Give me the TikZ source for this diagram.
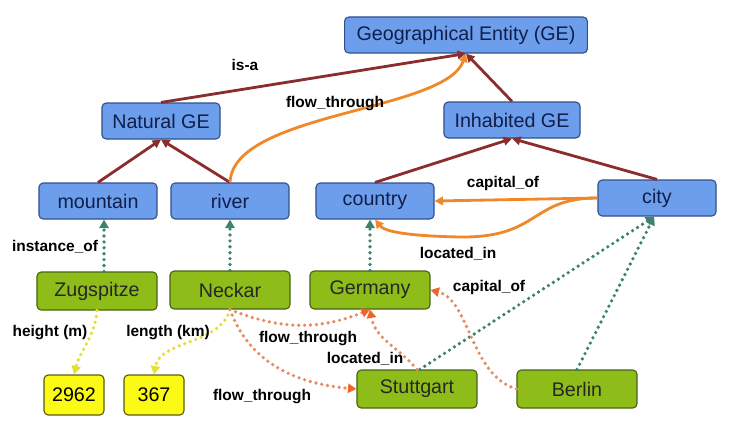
\documentclass[tikz,border=0pt]{standalone}
\usepackage{fontspec}
\setmainfont{Liberation Sans}
\usetikzlibrary{arrows.meta, positioning}

\definecolor{classfill}{RGB}{109,158,235}
\definecolor{classborder}{RGB}{50,80,140}
\definecolor{classtext}{RGB}{15,30,75}
\definecolor{instfill}{RGB}{142,189,26}
\definecolor{instborder}{RGB}{70,100,20}
\definecolor{valfill}{RGB}{250,250,20}
\definecolor{valborder}{RGB}{90,90,20}
\definecolor{isared}{RGB}{140,45,45}
\definecolor{relorange}{RGB}{240,135,40}
\definecolor{ofteal}{RGB}{60,130,110}
\definecolor{dotorange}{RGB}{230,140,100}
\definecolor{tiporange}{RGB}{240,100,40}
\definecolor{attryellow}{RGB}{230,222,50}

\begin{document}
\begin{tikzpicture}[x=0.025cm, y=-0.025cm,
    class/.style={draw=classborder, fill=classfill, text=classtext, rounded corners=3pt,
        line width=0.8pt, minimum width=2.95cm, minimum height=0.9cm, font=\fontsize{14}{16}\selectfont},
    inst/.style={draw=instborder, fill=instfill, text=black!85, rounded corners=3pt,
        line width=0.8pt, minimum width=3cm, minimum height=0.95cm, font=\fontsize{14}{16}\selectfont},
    val/.style={draw=valborder, fill=valfill, rounded corners=3pt, line width=0.8pt,
        minimum width=1.5cm, minimum height=1cm, font=\fontsize{14}{16}\selectfont},
    lbl/.style={font=\fontsize{11}{13}\selectfont\bfseries},
    isa/.style={isared, line width=2pt, -{Triangle[length=6pt, width=6pt]}},
    rel/.style={relorange, line width=2pt, -{Triangle[length=6pt, width=6pt]}},
    ofedge/.style={ofteal, line width=2.6pt, line cap=round, dash pattern=on 0pt off 4.2pt,
        -{Triangle[length=6pt, width=6.5pt]}},
    dotrel/.style={dotorange, line width=2.6pt, line cap=round, dash pattern=on 0pt off 4.2pt,
        -{Triangle[length=6pt, width=6.5pt, color=tiporange]}},
    attr/.style={attryellow, line width=2.6pt, line cap=round, dash pattern=on 0pt off 4.2pt,
        -{Triangle[length=6pt, width=6.5pt]}}
]
    \useasboundingbox (0,0) rectangle (738,436);

    % Classes
    \node[class, minimum width=6.07cm] (ge) at (466, 35) {Geographical Entity (GE)};
    \node[class] (natge) at (161, 121) {Natural GE};
    \node[class, minimum width=3.4cm] (inhge) at (512, 120) {Inhabited GE};
    \node[class] (mountain) at (98, 201) {mountain};
    \node[class] (river) at (230, 201) {river};
    \node[class] (country) at (375, 201) {country};
    \node[class] (city) at (657, 198) {city};

    % Instances
    \node[inst] (zugspitze) at (97, 291) {Zugspitze};
    \node[inst] (neckar) at (230, 290) {Neckar};
    \node[inst] (germany) at (370, 290) {Germany};
    \node[inst] (stuttgart) at (417, 389) {Stuttgart};
    \node[inst] (berlin) at (577, 389) {Berlin};

    % Values
    \node[val] (v2962) at (74, 395) {2962};
    \node[val] (v367) at (154, 395) {367};

    % is-a
    \draw[isa] (natge.north) -- (ge.south);
    \draw[isa] (inhge.north) -- (ge.south);
    \draw[isa] (mountain.north) -- (natge.south);
    \draw[isa] (river.north) -- (natge.south);
    \draw[isa] (country.north) -- (inhge.south);
    \draw[isa] (city.north) -- (inhge.south);
    \node[lbl] at (245, 65) {is-a};

    % Relations between classes
    \draw[rel] (river.north) .. controls (233, 112) and (445, 112) .. (ge.south);
    \node[lbl] at (335, 104) {flow\_through};
    \draw[rel] (city.west) -- (country.east);
    \node[lbl] at (503, 183) {capital\_of};
    \draw[rel] (city.west) .. controls (530, 198) and (540, 238) .. (460, 237)
        .. controls (410, 236) and (385, 232) .. (country.south);
    \node[lbl] at (458, 254) {located\_in};

    % instance_of
    \draw[ofedge] ([xshift=5pt]zugspitze.north) -- ([xshift=5pt]zugspitze.north |- mountain.south);
    \node[lbl] at (55, 247) {instance\_of};
    \draw[ofedge] (neckar.north) -- (river.south);
    \draw[ofedge] (germany.north) -- (germany.north |- country.south);
    \draw[ofedge] ([xshift=2pt]stuttgart.north) -- ([xshift=-2pt]city.south);
    \draw[ofedge] (berlin.north) -- ([xshift=-2pt]city.south);

    % Attributes
    \draw[attr] (zugspitze.south) to[out=-95, in=75] (v2962.north);
    \node[lbl] at (50, 333) {height (m)};
    \draw[attr] (neckar.south) .. controls (220, 345) and (160, 340) .. (v367.north);
    \node[lbl] at (168, 333) {length (km)};

    % Relations between instances
    \draw[dotrel] (neckar.south) to[bend right=22] (germany.south);
    \node[lbl] at (308, 339) {flow\_through};
    \draw[dotrel] (neckar.south) to[out=-70, in=175] (stuttgart.west);
    \node[lbl] at (262, 397) {flow\_through};
    \draw[dotrel] (stuttgart.north) to[out=130, in=-80] (germany.south);
    \node[lbl] at (365, 359) {located\_in};
    \draw[dotrel] (berlin.west) .. controls (470, 375) and (470, 300) .. (germany.east);
    \node[lbl] at (489, 287) {capital\_of};
\end{tikzpicture}
\end{document}
